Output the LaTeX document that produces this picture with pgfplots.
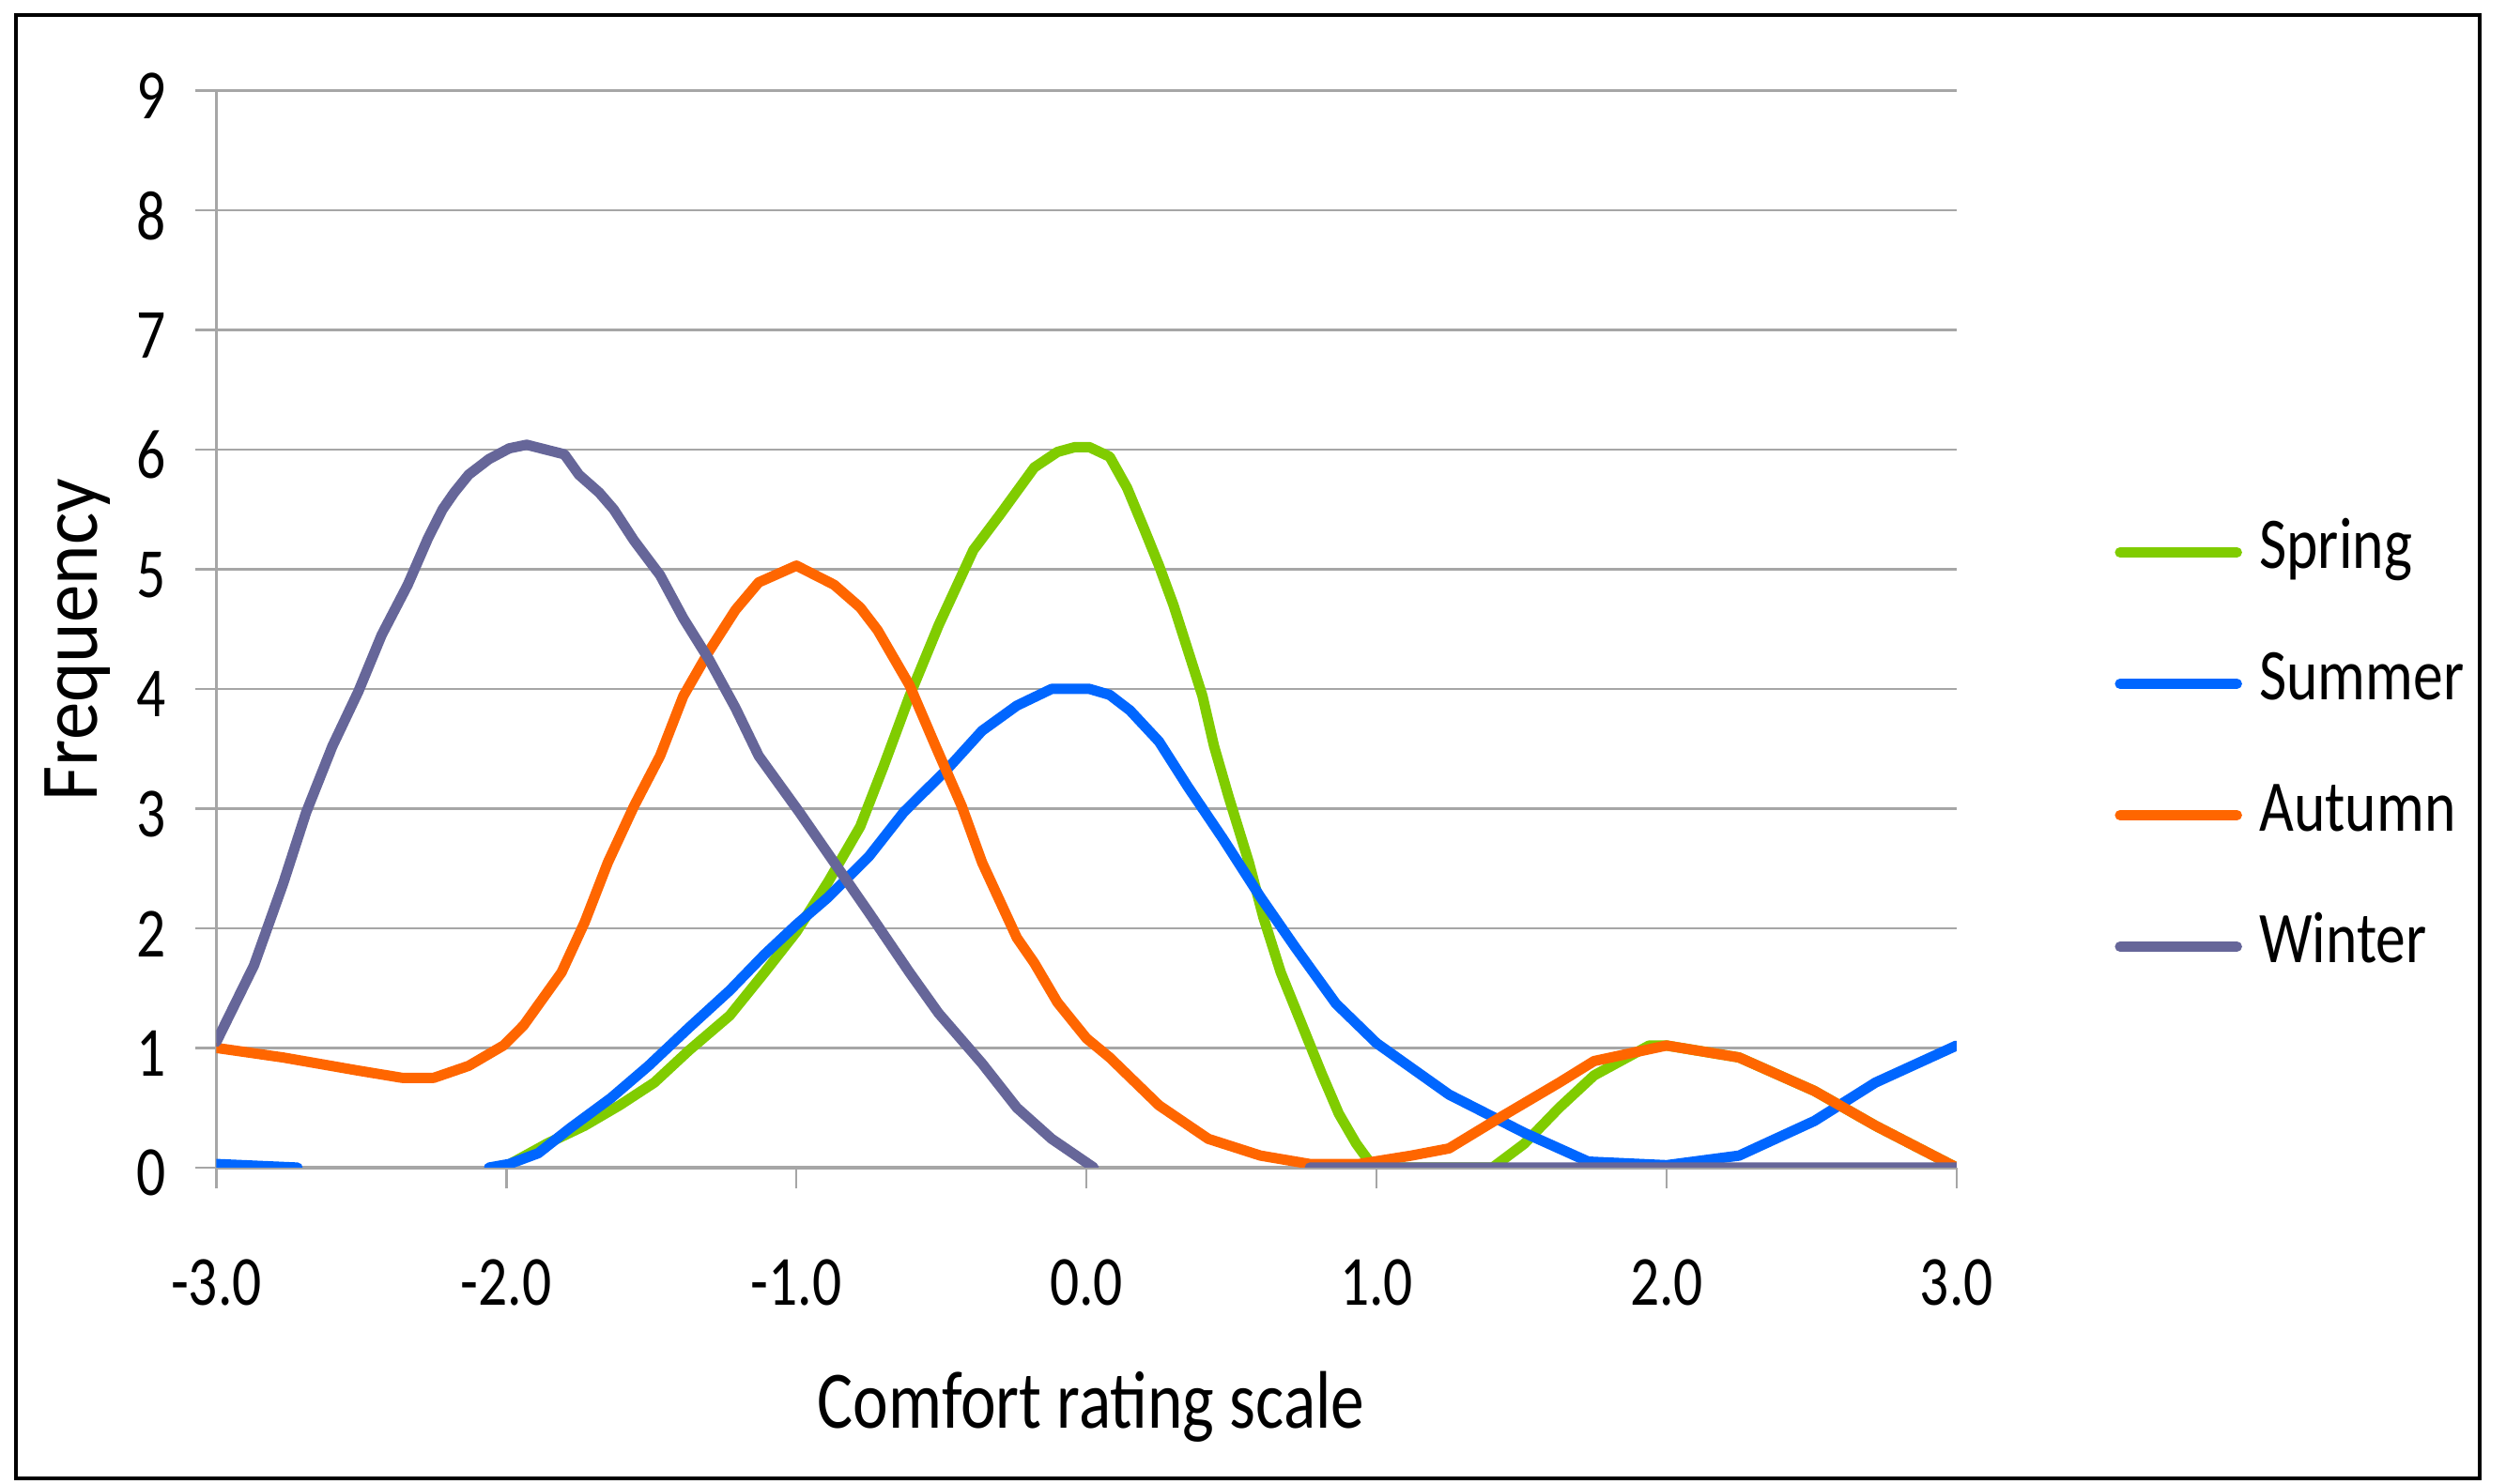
\documentclass[border=0pt]{standalone}
\usepackage{fontspec}
\setmainfont{Carlito}
\newfontfamily\condfont[FakeStretch=0.82]{Carlito}
\newfontfamily\ylfont[FakeStretch=0.93]{Carlito}
\usepackage{pgfplots}
\pgfplotsset{compat=1.18}
\definecolor{cspring}{RGB}{128,204,0}
\definecolor{csummer}{RGB}{0,102,255}
\definecolor{cautumn}{RGB}{255,102,0}
\definecolor{cwinter}{RGB}{102,102,153}
\definecolor{cgrid}{RGB}{166,166,166}
\begin{document}
\begin{tikzpicture}[x=1pt,y=1pt]
\useasboundingbox (0,0) rectangle (533.8,316.2);
\draw[line width=0.8pt] (3.4,1.2) rectangle (528.2,313);
\begin{axis}[
  at={(46.08pt,67.42pt)}, anchor=south west,
  scale only axis, width=370.7pt, height=229.5pt,
  xmin=-3, xmax=3, ymin=0, ymax=9,
  axis x line=bottom, axis y line=left, axis line style={-},
  x axis line style={cgrid, line width=0.9pt},
  y axis line style={cgrid, line width=0.45pt},
  xtick={-3,-2,-1,0,1,2,3},
  xticklabels={-3.0,-2.0,-1.0,0.0,1.0,2.0,3.0},
  ytick={0,1,2,3,4,5,6,7,8,9},
  yticklabels={0,1,2,3,4,5,6,7,8,9},
  tick align=outside, major tick length=4.5pt,
  tick style={cgrid, line width=0.5pt},
  ymajorgrids, grid style={cgrid, line width=0.45pt},
  xticklabel style={font=\condfont\fontsize{15}{18}\selectfont, anchor=north, inner sep=0pt, yshift=-14.9pt},
  yticklabel style={font=\condfont\fontsize{15}{18}\selectfont, anchor=east, inner sep=0pt, xshift=-6.1pt, yshift=-1.2pt},
  xlabel={Comfort rating scale},
  ylabel={Frequency},
  xlabel style={font=\condfont\fontsize{17.4}{20}\selectfont, at={(axis description cs:0.5026,-0.222)}, anchor=center, inner sep=0pt},
  ylabel style={font=\ylfont\fontsize{17.4}{20}\selectfont, at={(axis description cs:-0.0795,0.49)}, anchor=center, inner sep=0pt},
  unbounded coords=jump,
  every axis plot/.append style={line width=2.2pt, line join=round, line cap=round},
  legend image code/.code={\draw[#1] (0pt,0pt) -- (24.9pt,0pt);},
  legend cell align=left,
  legend style={at={(axis description cs:1.0904,0.6026)}, anchor=north west, draw=none, fill=none,
    inner sep=0pt, row sep=14pt, column sep=3.7pt,
    font=\condfont\fontsize{15.5}{18}\selectfont,
    nodes={inner sep=0pt, text height=10.5pt, text depth=3.5pt}},
]
\addplot[cspring] coordinates {
(-2.01,0) (-1.86,0.2) (-1.73,0.35) (-1.61,0.52) (-1.49,0.71) (-1.37,0.98) (-1.23,1.27) (-1.11,1.63) (-1.0,1.97) (-0.89,2.39) (-0.78,2.85) (-0.7,3.35) (-0.61,3.94) (-0.51,4.53) (-0.39,5.16) (-0.3,5.45) (-0.18,5.85) (-0.1,5.98) (-0.04,6.02) (0.01,6.02) (0.08,5.94) (0.14,5.68) (0.2,5.33) (0.25,5.03) (0.3,4.7) (0.35,4.32) (0.4,3.94) (0.44,3.52) (0.49,3.1) (0.56,2.55) (0.61,2.09) (0.67,1.63) (0.74,1.21) (0.81,0.79) (0.87,0.45) (0.93,0.2) (0.99,0) (1.4,0) (1.51,0.2) (1.63,0.5) (1.75,0.77) (1.94,1.02) (2.0,1.02) (2.25,0.92) (2.51,0.64) (2.72,0.35) (3,0)
};
\addlegendentry{Spring}
\addplot[csummer] coordinates {
(-3,0.03) (-2.72,0) (-2.4,nan) (-2.06,0) (-1.99,0.03) (-1.89,0.12) (-1.78,0.33) (-1.64,0.58) (-1.51,0.85) (-1.37,1.17) (-1.23,1.48) (-1.11,1.78) (-1.0,2.03) (-0.89,2.26) (-0.75,2.6) (-0.63,2.97) (-0.48,3.33) (-0.36,3.65) (-0.24,3.86) (-0.12,4.0) (0.01,4.0) (0.08,3.95) (0.15,3.82) (0.25,3.56) (0.35,3.18) (0.47,2.75) (0.6,2.26) (0.72,1.84) (0.86,1.37) (1.0,1.04) (1.25,0.61) (1.51,0.29) (1.73,0.05) (2.0,0.02) (2.25,0.1) (2.51,0.39) (2.72,0.71) (3.0,1.02)
};
\addlegendentry{Summer}
\addplot[cautumn] coordinates {
(-3,1.0) (-2.77,0.92) (-2.51,0.81) (-2.36,0.75) (-2.25,0.75) (-2.13,0.85) (-2.01,1.02) (-1.94,1.19) (-1.81,1.63) (-1.73,2.05) (-1.65,2.55) (-1.56,3.02) (-1.47,3.44) (-1.39,3.94) (-1.3,4.32) (-1.21,4.66) (-1.13,4.89) (-1.0,5.03) (-0.87,4.87) (-0.78,4.68) (-0.72,4.49) (-0.61,4.03) (-0.52,3.52) (-0.43,3.02) (-0.36,2.55) (-0.24,1.92) (-0.18,1.71) (-0.1,1.38) (0,1.08) (0.08,0.92) (0.25,0.52) (0.42,0.24) (0.6,0.1) (0.77,0.03) (0.94,0.03) (1.12,0.1) (1.25,0.16) (1.42,0.41) (1.63,0.71) (1.75,0.89) (2.0,1.02) (2.25,0.92) (2.51,0.64) (2.72,0.35) (3,0)
};
\addlegendentry{Autumn}
\addplot[cwinter] coordinates {
(-3,1.05) (-2.87,1.69) (-2.77,2.37) (-2.69,2.97) (-2.6,3.52) (-2.51,3.98) (-2.43,4.45) (-2.34,4.87) (-2.27,5.26) (-2.22,5.5) (-2.18,5.64) (-2.13,5.79) (-2.06,5.92) (-1.99,6.01) (-1.93,6.04) (-1.8,5.96) (-1.75,5.79) (-1.68,5.64) (-1.63,5.5) (-1.56,5.24) (-1.47,4.95) (-1.39,4.59) (-1.3,4.24) (-1.21,3.84) (-1.13,3.44) (-0.99,2.97) (-0.87,2.55) (-0.75,2.13) (-0.61,1.63) (-0.51,1.29) (-0.36,0.87) (-0.24,0.5) (-0.12,0.24) (0.025,0) (0.4,nan) (0.77,0) (3,0)
};
\addlegendentry{Winter}
\end{axis}
\end{tikzpicture}
\end{document}
